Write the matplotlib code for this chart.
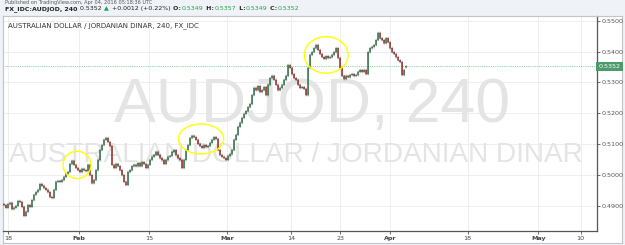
import numpy as np
import matplotlib
matplotlib.use("Agg")
import matplotlib.pyplot as plt
from matplotlib.patches import Ellipse
import matplotlib.transforms as mtransforms

# ---------------- data ----------------
closes = [
    0.4903, 0.4894, 0.4906, 0.4910, 0.4890, 0.4894, 0.4900, 0.4916, 0.4913, 0.4897,
    0.4868, 0.4881, 0.4903, 0.4897, 0.4919, 0.4936, 0.4945, 0.4952, 0.4971, 0.4965,
    0.4958, 0.4952, 0.4945, 0.4929, 0.4926, 0.4952, 0.4978, 0.4981, 0.4978, 0.4984,
    0.4994, 0.5004, 0.5010, 0.5036, 0.5046, 0.5033, 0.5023, 0.5016, 0.5010, 0.5020,
    0.5016, 0.5013, 0.5033, 0.5000, 0.4974, 0.4984, 0.5016, 0.5049, 0.5081, 0.5097,
    0.5114, 0.5120, 0.5107, 0.5094, 0.5033, 0.5023, 0.5036, 0.5029, 0.5016, 0.5000,
    0.4978, 0.4968, 0.5010, 0.5016, 0.5029, 0.5033, 0.5029, 0.5039, 0.5029, 0.5042,
    0.5036, 0.5023, 0.5033, 0.5049, 0.5059, 0.5065, 0.5075, 0.5065, 0.5055, 0.5049,
    0.5036, 0.5049, 0.5059, 0.5062, 0.5075, 0.5081, 0.5065, 0.5055, 0.5049, 0.5023,
    0.5049, 0.5081, 0.5097, 0.5120, 0.5127, 0.5123, 0.5114, 0.5101, 0.5094, 0.5088,
    0.5097, 0.5091, 0.5094, 0.5104, 0.5114, 0.5123, 0.5117, 0.5081, 0.5065, 0.5059,
    0.5055, 0.5049, 0.5062, 0.5068, 0.5081, 0.5114, 0.5130, 0.5156, 0.5169, 0.5185,
    0.5198, 0.5207, 0.5220, 0.5230, 0.5259, 0.5282, 0.5275, 0.5288, 0.5269, 0.5275,
    0.5285, 0.5259, 0.5292, 0.5314, 0.5321, 0.5308, 0.5292, 0.5275, 0.5282, 0.5292,
    0.5308, 0.5321, 0.5356, 0.5347, 0.5327, 0.5314, 0.5308, 0.5292, 0.5282, 0.5285,
    0.5279, 0.5259, 0.5347, 0.5389, 0.5398, 0.5411, 0.5421, 0.5405, 0.5392, 0.5382,
    0.5376, 0.5385, 0.5379, 0.5382, 0.5389, 0.5398, 0.5411, 0.5379, 0.5347, 0.5321,
    0.5311, 0.5321, 0.5317, 0.5324, 0.5327, 0.5321, 0.5324, 0.5334, 0.5340, 0.5334,
    0.5340, 0.5327, 0.5398, 0.5411, 0.5415, 0.5421, 0.5437, 0.5460, 0.5443, 0.5437,
    0.5427, 0.5443, 0.5430, 0.5411, 0.5398, 0.5392, 0.5382, 0.5372, 0.5366, 0.5324,
    0.5340, 0.5352,
]
first_open = 0.4906
last_open = 0.5349
bar_start_day = -0.57      # trading days relative to Jan 18
bar_end_day = 56.3

tick_days = [0, 10, 20, 31, 40, 47, 54, 65, 75, 81]
tick_labels = ["18", "Feb", "15", "Mar", "14", "23", "Apr", "18", "May", "10"]
month_labels = {"Feb", "Mar", "Apr", "May"}

price_ticks = [0.49, 0.50, 0.51, 0.52, 0.53, 0.54, 0.55]
last_price = 0.5352

header_title = "FX_IDC:AUDJOD, 240"
header_change = "+0.0012 (+0.22%)"
ohlc_names = ["O:", "H:", "L:", "C:"]
ohlc_vals = ["0.5349", "0.5357", "0.5349", "0.5352"]

chart_title = "AUSTRALIAN DOLLAR / JORDANIAN DINAR, 240, FX_IDC"
wm_big = "AUDJOD, 240"
wm_small = "AUSTRALIAN DOLLAR / JORDANIAN DINAR"

# highlighted areas (centre day, centre price, width days, height price)
circle_day = [9.76, 27.3, 45.0]
circle_price = [0.5033, 0.5117, 0.5389]
circle_w = [3.96, 6.4, 6.2]
circle_h = [0.0088, 0.0097, 0.0118]

# ---------------- figure ----------------
W, H = 625, 245
fig = plt.figure(figsize=(W / 100, H / 100), dpi=100)
fig.patch.set_facecolor("#eff2f6")

# white panel (background axes)
bg = fig.add_axes([3 / W, 1 - 243 / H, 619 / W, (243 - 16) / H], zorder=-5)
bg.set_xticks([]); bg.set_yticks([])
bg.set_facecolor("white")
for s in bg.spines.values():
    s.set_color("#c4c4c4"); s.set_linewidth(0.8)

ax = fig.add_axes([3 / W, 1 - 231 / H, 594 / W, 215 / H], zorder=1)
ax.set_facecolor("white")
ax.set_xlim(-0.71, 83.3)
ax.set_ylim(0.4819, 0.5515)

# grid
for d in tick_days:
    ax.axvline(d, color="#ebebeb", lw=0.6, zorder=0)
for p in price_ticks:
    ax.axhline(p, color="#ebebeb", lw=0.6, zorder=0)

# watermarks
ax.text(0.520, 0.586, wm_big, transform=ax.transAxes, ha="center", va="center",
        fontsize=45, family="Liberation Sans", color="#e4e4e4", zorder=1)
ax.text(6 / 594, 0.353, wm_small, transform=ax.transAxes, ha="left", va="center",
        fontsize=20.2, family="Liberation Sans", color="#e4e4e4", zorder=1)

# candles
n = len(closes)
xs = np.linspace(bar_start_day, bar_end_day, n)
opens = [first_open] + closes[:-1]
opens[-1] = last_open
opens = np.array(opens)
cl = np.array(closes)
wick = 0.0004
highs = np.maximum(opens, cl) + wick
lows = np.minimum(opens, cl) - wick
up = cl >= opens
bw = 0.18
ax.vlines(xs, lows, highs, color="#4a4a4a", lw=0.35, zorder=3, snap=False)
body_h = np.maximum(np.abs(cl - opens), 0.00012)
body_b = np.minimum(opens, cl)
b1 = ax.bar(xs[up], body_h[up], bottom=body_b[up], width=bw, color="#3f8f5c",
            edgecolor="#225437", linewidth=0.25, zorder=4)
b2 = ax.bar(xs[~up], body_h[~up], bottom=body_b[~up], width=bw, color="#c8473a",
            edgecolor="#5b1a13", linewidth=0.25, zorder=4)
for p in list(b1) + list(b2):
    p.set_snap(False)

# last price line
ax.axhline(last_price, color="#6cc38a", lw=0.6, ls=(0, (1, 1.2)), zorder=2)

# yellow circles
for cx, cy, cw, ch in zip(circle_day, circle_price, circle_w, circle_h):
    ax.add_patch(Ellipse((cx, cy), cw, ch, facecolor="none", edgecolor="#ffff00",
                         lw=1.0, zorder=6))

# axes styling
for s in ["top", "left"]:
    ax.spines[s].set_color("#c4c4c4")
    ax.spines[s].set_linewidth(0.8)
for s in ["right", "bottom"]:
    ax.spines[s].set_color("#555555")
    ax.spines[s].set_linewidth(0.9)

ax.yaxis.tick_right()
ax.set_yticks(price_ticks)
ax.set_yticklabels([f"{p:.4f}" for p in price_ticks])
ax.tick_params(axis="y", which="both", length=2.5, width=0.6, color="#555555",
               labelsize=4.6, labelcolor="#555555", pad=1)
ax.set_xticks(tick_days)
ax.set_xticklabels(tick_labels)
ax.tick_params(axis="x", length=2, width=0.6, color="#555555", labelsize=4.6,
               labelcolor="#444444", pad=1.5)
for lab in ax.get_xticklabels():
    if lab.get_text() in month_labels:
        lab.set_fontweight("bold")

# last price label box
trans = mtransforms.blended_transform_factory(ax.transAxes, ax.transData)
ax.text(1.0 + 1.5 / 594, last_price, f"{last_price:.4f}", transform=trans,
        ha="left", va="center", fontsize=4.6, color="white", zorder=10,
        bbox=dict(boxstyle="square,pad=0.35", facecolor="#4b9c6a", edgecolor="none"),
        clip_on=False)

# chart title inside
fig.text(8 / W, 1 - 26 / H, chart_title, ha="left", va="center", fontsize=5.0,
         color="#333333")

# published line (top)
fig.text(5 / W, 1 - 2.2 / H, "Published on TradingView.com, Apr 04, 2016 05:18:36 UTC",
         ha="left", va="center", fontsize=3.6, color="#555555")

# header
fig.canvas.draw()
r = fig.canvas.get_renderer()
green = "#1fa34a"
dark = "#222222"
pieces = [(header_title, dict(fontweight="bold", color=dark)),
          (" 0.5352 ", dict(color=dark)),
          ("\u25B2", dict(color=green)),
          (" " + header_change, dict(color=dark))]
for nm, v in zip(ohlc_names, ohlc_vals):
    pieces.append((" " + nm, dict(fontweight="bold", color=dark)))
    pieces.append((v, dict(color=green)))
xp = 5.0
for s, kw in pieces:
    t = fig.text(xp / W, 1 - 8.8 / H, s, ha="left", va="center", fontsize=4.5, **kw)
    bb = t.get_window_extent(r)
    xp = bb.x1 + 0.6

fig.savefig("out.png", dpi=100, facecolor=fig.get_facecolor())
